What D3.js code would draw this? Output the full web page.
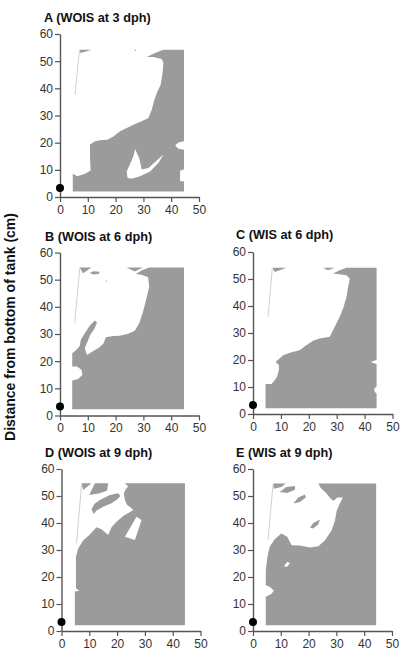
<!DOCTYPE html>
<html>
<head>
<meta charset="utf-8">
<script src="https://cdn.jsdelivr.net/npm/d3@7"></script>
<style>
  body { margin: 0; background: #fff; }
  svg { display: block; font-family: "Liberation Sans", Arial, sans-serif; }
</style>
</head>
<body>
<svg width="406" height="667"></svg>
<script>
// ---- data (cm) ----
var titles = ["A (WOIS at 3 dph)", "B (WOIS at 6 dph)", "C (WIS at 6 dph)", "D (WOIS at 9 dph)", "E (WIS at 9 dph)"];
var xTicks = [0, 10, 20, 30, 40, 50];
var yTicks = [0, 10, 20, 30, 40, 50, 60];
var lightSource = [0, 3.3];

// gray area outlines, white holes, small gray pieces, thin edge line
var grayA = [[4.6,2.0],[4.6,8.6],[6.2,7.6],[9.0,8.6],[11.0,9.8],[10.8,15.0],[10.8,19.3],[12.6,20.5],[14.4,20.9],[17.0,21.1],[19.2,22.3],[21.6,24.2],[24.0,25.4],[26.4,26.6],[28.8,27.6],[31.8,29.1],[33.0,32.1],[33.8,35.2],[34.8,38.3],[36.2,41.3],[36.9,45.6],[37.2,49.3],[36.6,50.8],[33.6,51.5],[31.2,51.5],[34.2,53.0],[37.2,54.2],[44.6,54.2],[44.6,20.5],[42.6,20.1],[41.4,19.0],[42.6,17.8],[44.6,17.4],[44.6,10.1],[43.2,9.8],[43.2,5.8],[44.6,5.8],[44.6,2.0]];
var holesA = [[[24.3,7.0],[24.0,9.4],[26.4,15.0],[27.0,17.7],[28.5,14.4],[29.4,10.1],[31.8,10.7],[37.2,15.6],[35.4,12.5],[32.4,9.4],[28.8,7.6],[25.8,6.7]]];
var bitsA = [[[7.0,54.2],[11.4,54.2],[7.4,53.0]], [[26.6,54.2],[27.6,54.2],[27.1,53.7]]];
var edgeA = [[7.0,54.0],[5.4,37.7]];

var grayB = [[4.4,2.3],[4.4,12.9],[6.5,13.4],[8.1,15.0],[7.7,16.8],[6.1,18.0],[4.4,18.0],[4.4,22.9],[5.9,24.2],[7.1,25.6],[7.5,27.9],[8.9,30.3],[10.7,33.0],[12.5,35.0],[13.3,34.2],[12.5,32.1],[10.9,29.7],[9.9,27.2],[8.9,24.8],[9.7,22.3],[11.7,23.6],[14.1,25.0],[15.7,26.6],[16.5,28.8],[19.1,29.3],[21.5,29.4],[24.5,30.1],[26.9,31.2],[28.5,34.0],[29.9,38.3],[31.1,43.2],[32.1,47.5],[31.7,50.9],[29.3,51.8],[27.3,52.1],[29.3,53.4],[32.1,54.5],[44.6,54.5],[44.6,2.3]];
var holesB = [];
var bitsB = [[[7.1,54.5],[11.3,54.5],[8.3,52.4]], [[10.7,52.5],[12.0,53.1],[14.3,52.9],[14.0,52.2],[12.0,51.9]], [[23.9,54.5],[29.9,54.5],[26.9,53.0]], [[16.4,49.6],[17.0,49.6],[16.7,49.1]]];
var edgeB = [[7.1,54.2],[5.3,34.0]];

var grayC = [[4.5,2.1],[4.5,11.1],[6.6,11.1],[7.4,11.9],[8.6,13.8],[9.3,16.3],[9.3,18.1],[8.1,19.3],[10.8,21.8],[13.2,22.7],[16.7,23.6],[19.1,25.5],[21.5,27.1],[23.9,28.0],[27.5,28.6],[28.1,29.8],[29.3,32.3],[31.1,36.0],[32.5,39.7],[33.5,43.3],[34.1,47.0],[34.7,50.1],[33.5,51.4],[28.7,52.0],[31.1,53.2],[33.5,54.2],[44.3,54.2],[44.3,20.0],[42.1,19.3],[44.3,18.5],[44.3,10.1],[43.5,9.5],[43.5,8.3],[44.3,7.6],[44.3,2.1]];
var holesC = [];
var bitsC = [[[6.9,54.2],[12.0,54.2],[7.8,52.6]], [[25.1,54.2],[29.3,54.2],[26.9,53.2]]];
var edgeC = [[6.9,53.8],[5.4,36.0]];

var grayD = [[4.8,2.1],[4.8,14.6],[6.4,14.9],[5.2,15.8],[5.2,17.7],[5.2,27.5],[6.0,30.6],[7.8,33.5],[10.0,35.6],[12.6,38.4],[14.4,37.7],[16.8,35.6],[18.0,38.4],[19.8,40.5],[22.2,42.6],[24.8,44.2],[25.8,44.8],[24.8,45.8],[23.6,46.7],[22.8,48.5],[22.4,51.0],[23.1,52.5],[24.0,53.5],[22.8,54.7],[44.4,54.7],[44.4,2.1]];
var holesD = [[[22.8,34.9],[26.4,33.7],[28.8,41.1],[27.0,42.3]]];
var bitsD = [[[7.2,54.7],[10.8,54.7],[7.8,52.2]], [[12.0,54.7],[16.8,54.7],[16.4,52.0],[13.8,51.0],[10.0,50.4]], [[10.8,45.1],[11.8,47.0],[13.8,48.5],[17.4,50.4],[20.4,51.0],[21.2,50.0],[19.8,48.5],[18.0,47.3],[15.0,46.0],[12.6,44.6],[11.6,43.3]]];
var edgeD = [[7.2,54.1],[5.4,32.5]];

var grayE = [[4.6,2.1],[4.6,12.7],[6.6,13.7],[7.5,14.9],[6.0,16.4],[4.6,16.9],[4.6,22.5],[5.2,27.5],[6.0,31.2],[7.8,34.0],[10.2,36.1],[12.3,34.9],[13.9,31.8],[16.9,31.7],[20.5,30.9],[23.5,31.4],[25.9,33.6],[28.3,37.3],[29.5,41.0],[30.1,44.5],[31.1,46.9],[32.3,49.4],[30.4,49.4],[28.9,48.2],[28.0,49.0],[26.3,51.1],[24.3,53.1],[23.5,54.6],[44.3,54.6],[44.3,2.1]];
var holesE = [[[11.1,24.0],[12.3,25.6],[13.3,25.2],[12.3,23.8]]];
var bitsE = [[[7.2,54.6],[11.8,54.6],[10.2,53.3],[7.5,52.7]], [[9.6,51.5],[12.0,53.3],[15.1,53.7],[15.1,52.3],[12.3,51.1]], [[14.5,47.2],[16.3,49.4],[18.7,50.6],[19.0,49.4],[16.9,47.8]], [[20.5,38.3],[21.7,40.0],[24.1,41.3],[23.5,39.5],[21.7,38.0]]];
var edgeE = [[7.2,54.3],[5.4,33.6]];

var grays = [grayA, grayB, grayC, grayD, grayE];
var holes = [holesA, holesB, holesC, holesD, holesE];
var bits = [bitsA, bitsB, bitsC, bitsD, bitsE];
var edges = [edgeA, edgeB, edgeC, edgeD, edgeE];

// ---- layout (px) ----
var boxes = [
  {left: 60, right: 199, top: 34, bottom: 197, tx: 44, ty: 22},
  {left: 60, right: 199, top: 252.5, bottom: 415.5, tx: 45, ty: 241},
  {left: 253, right: 392.5, top: 252, bottom: 414, tx: 236, ty: 239},
  {left: 61.5, right: 200.5, top: 469, bottom: 631, tx: 45, ty: 457},
  {left: 253, right: 392, top: 469, bottom: 631, tx: 236, ty: 457}
];

var svg = d3.select("svg");
var grayFill = "#9b9b9b";

boxes.forEach(function(b, i) {
  var x = d3.scaleLinear().domain([0, 50]).range([b.left, b.right]);
  var y = d3.scaleLinear().domain([0, 60]).range([b.bottom, b.top]);
  var line = d3.line().x(function(d) { return x(d[0]); }).y(function(d) { return y(d[1]); });
  var g = svg.append("g");

  g.append("path").attr("d", line(grays[i]) + "Z").attr("fill", grayFill);
  g.selectAll(".bit").data(bits[i]).join("path")
      .attr("d", function(d) { return line(d) + "Z"; })
      .attr("fill", grayFill);
  g.selectAll(".hole").data(holes[i]).join("path")
      .attr("d", function(d) { return line(d) + "Z"; })
      .attr("fill", "#fff");
  g.append("path").attr("d", line(edges[i]))
      .attr("stroke", "#c4c4c4").attr("stroke-width", 0.8).attr("fill", "none");

  var ax = g.append("g").attr("transform", "translate(0," + b.bottom + ")")
      .call(d3.axisBottom(x).tickValues(xTicks).tickSize(5).tickSizeOuter(0).tickPadding(3));
  var ay = g.append("g").attr("transform", "translate(" + b.left + ",0)")
      .call(d3.axisLeft(y).tickValues(yTicks).tickSize(5).tickSizeOuter(0).tickPadding(2));
  [ax, ay].forEach(function(a) {
    a.select(".domain").attr("stroke", "#555").attr("stroke-width", 1.4);
    a.selectAll(".tick line").attr("stroke", "#555").attr("stroke-width", 1.2);
    a.selectAll(".tick text").attr("fill", "#333").style("font-size", "12px")
      .style("font-family", "'Liberation Sans', Arial, sans-serif");
  });

  g.append("circle")
      .attr("cx", x(lightSource[0])).attr("cy", y(lightSource[1]))
      .attr("r", 4).attr("fill", "#000");

  g.append("text").attr("x", b.tx).attr("y", b.ty)
      .attr("font-weight", "bold").attr("font-size", "12.7px").attr("fill", "#111")
      .text(titles[i]);
});

svg.append("text")
    .attr("transform", "translate(15,327) rotate(-90)")
    .attr("text-anchor", "middle")
    .attr("font-weight", "bold").attr("font-size", "14px").attr("fill", "#111")
    .text("Distance from bottom of tank (cm)");
</script>
</body>
</html>
